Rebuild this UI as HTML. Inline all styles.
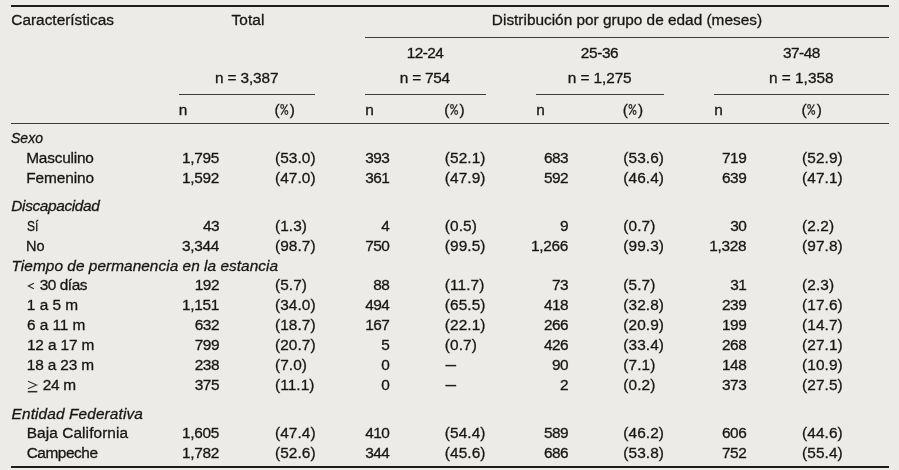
<!DOCTYPE html>
<html><head><meta charset="utf-8"><title>Tabla</title>
<style>
html,body{margin:0;padding:0;}
body{width:899px;height:470px;background:#edebe7;position:relative;overflow:hidden;
font-family:"Liberation Sans",sans-serif;font-size:15.4px;color:#161616;}
.t{position:absolute;white-space:nowrap;line-height:20px;height:20px;-webkit-text-stroke:0.3px #161616;}
.i{font-style:italic;}
.t b{font-weight:normal;display:inline-block;transform:scaleX(.66);transform-origin:0 50%;margin-right:-4.6px;letter-spacing:0;}
.l{position:absolute;}
.g{position:absolute;left:0;top:0;}
.w{position:absolute;left:0;top:0;width:899px;height:470px;will-change:transform;}
</style></head><body>
<div class="l" style="top:5.00px;left:11.30px;width:877.60px;height:2px;background:#1e1e1e"></div>
<div class="l" style="top:36.60px;left:365.00px;width:523.90px;height:1px;background:#3c3c3c"></div>
<div class="l" style="top:93.80px;left:178.70px;width:136.50px;height:1px;background:#3c3c3c"></div>
<div class="l" style="top:93.80px;left:365.00px;width:120.90px;height:1px;background:#3c3c3c"></div>
<div class="l" style="top:93.80px;left:535.80px;width:128.10px;height:1px;background:#3c3c3c"></div>
<div class="l" style="top:93.80px;left:714.10px;width:174.80px;height:1px;background:#3c3c3c"></div>
<div class="l" style="top:122.80px;left:11.30px;width:877.60px;height:1px;background:#3c3c3c"></div>
<div class="l" style="top:466.00px;left:11.30px;width:877.60px;height:2px;background:#1e1e1e"></div>
<svg class="g" width="899" height="470" viewBox="0 0 899 470" fill="none" stroke-linecap="butt" stroke-linejoin="miter">
<polyline points="33.9,283.3 28.4,286 33.9,288.7" stroke="#262626" stroke-width="1.2"/>
<polyline points="28,381.3 36.6,385 28,388.7" stroke="#333" stroke-width="1.1"/>
<line x1="27.8" y1="391.7" x2="37.3" y2="391.7" stroke="#2a2a2a" stroke-width="1.5"/>
<g stroke="#2c2c2c" stroke-width="1.15"><ellipse cx="282.20" cy="106.5" rx="1.45" ry="1.9"/><ellipse cx="286.35" cy="112.5" rx="1.45" ry="1.9"/><line x1="287.40" y1="104.4" x2="281.00" y2="114.9"/><ellipse cx="452.00" cy="106.5" rx="1.45" ry="1.9"/><ellipse cx="456.15" cy="112.5" rx="1.45" ry="1.9"/><line x1="457.20" y1="104.4" x2="450.80" y2="114.9"/><ellipse cx="630.40" cy="106.5" rx="1.45" ry="1.9"/><ellipse cx="634.55" cy="112.5" rx="1.45" ry="1.9"/><line x1="635.60" y1="104.4" x2="629.20" y2="114.9"/><ellipse cx="809.10" cy="106.5" rx="1.45" ry="1.9"/><ellipse cx="813.25" cy="112.5" rx="1.45" ry="1.9"/><line x1="814.30" y1="104.4" x2="807.90" y2="114.9"/><line x1="445.40" y1="365.60" x2="456.20" y2="365.60" stroke="#202020" stroke-width="1.5"/><line x1="445.40" y1="385.60" x2="456.20" y2="385.60" stroke="#202020" stroke-width="1.5"/></g>
</svg>
<div class="w">
<span class="t" style="top:10px;left:11.31px;letter-spacing:0.004px;">Características</span>
<span class="t" style="top:10px;left:48.01px;width:400px;text-align:center;letter-spacing:0.134px;">Total</span>
<span class="t" style="top:10px;left:426.96px;width:400px;text-align:center;letter-spacing:-0.004px;">Distribución por grupo de edad (meses)</span>
<span class="t" style="top:43px;left:225.07px;width:400px;text-align:center;letter-spacing:-0.566px;">12-24</span>
<span class="t" style="top:43px;left:399.57px;width:400px;text-align:center;letter-spacing:-0.388px;">25-36</span>
<span class="t" style="top:43px;left:601.38px;width:400px;text-align:center;letter-spacing:-0.520px;">37-48</span>
<span class="t" style="top:68px;left:46.68px;width:400px;text-align:center;letter-spacing:-0.135px;">n = 3,387</span>
<span class="t" style="top:68px;left:224.83px;width:400px;text-align:center;letter-spacing:-0.258px;">n = 754</span>
<span class="t" style="top:68px;left:399.73px;width:400px;text-align:center;letter-spacing:-0.098px;">n = 1,275</span>
<span class="t" style="top:68px;left:601.27px;width:400px;text-align:center;letter-spacing:0.018px;">n = 1,358</span>
<span class="t" style="top:100px;left:178.74px;">n</span>
<span class="t" style="top:100px;left:274.50px;">(</span>
<span class="t" style="top:100px;left:289.75px;">)</span>
<span class="t" style="top:100px;left:365.20px;">n</span>
<span class="t" style="top:100px;left:444.30px;">(</span>
<span class="t" style="top:100px;left:459.55px;">)</span>
<span class="t" style="top:100px;left:536.16px;">n</span>
<span class="t" style="top:100px;left:622.70px;">(</span>
<span class="t" style="top:100px;left:637.95px;">)</span>
<span class="t" style="top:100px;left:714.15px;">n</span>
<span class="t" style="top:100px;left:801.40px;">(</span>
<span class="t" style="top:100px;left:816.65px;">)</span>
<span class="t i" style="top:128px;left:11.34px;transform:scaleX(0.9105);transform-origin:0 50%;">Sexo</span>
<span class="t" style="top:148px;left:26.18px;letter-spacing:-0.194px;">Masculino</span>
<span class="t" style="top:148px;right:680.00px;letter-spacing:-0.300px;">1,795</span>
<span class="t" style="top:148px;left:275.00px;letter-spacing:0.080px;">(53.0)</span>
<span class="t" style="top:148px;right:509.60px;letter-spacing:-0.500px;">393</span>
<span class="t" style="top:148px;left:444.85px;letter-spacing:0.080px;">(52.1)</span>
<span class="t" style="top:148px;right:330.95px;letter-spacing:-0.500px;">683</span>
<span class="t" style="top:148px;left:623.30px;letter-spacing:0.080px;">(53.6)</span>
<span class="t" style="top:148px;right:152.75px;letter-spacing:-0.500px;">719</span>
<span class="t" style="top:148px;left:802.05px;letter-spacing:0.080px;">(52.9)</span>
<span class="t" style="top:168px;left:26.25px;letter-spacing:-0.105px;">Femenino</span>
<span class="t" style="top:168px;right:680.00px;letter-spacing:-0.300px;">1,592</span>
<span class="t" style="top:168px;left:275.00px;letter-spacing:0.080px;">(47.0)</span>
<span class="t" style="top:168px;right:509.60px;letter-spacing:-0.500px;">361</span>
<span class="t" style="top:168px;left:444.85px;letter-spacing:0.080px;">(47.9)</span>
<span class="t" style="top:168px;right:330.95px;letter-spacing:-0.500px;">592</span>
<span class="t" style="top:168px;left:623.30px;letter-spacing:0.080px;">(46.4)</span>
<span class="t" style="top:168px;right:152.75px;letter-spacing:-0.500px;">639</span>
<span class="t" style="top:168px;left:802.05px;letter-spacing:0.080px;">(47.1)</span>
<span class="t i" style="top:196px;left:11.37px;letter-spacing:-0.358px;">Discapacidad</span>
<span class="t" style="top:216px;left:26.87px;transform:scaleX(0.7801);transform-origin:0 50%;">Sí</span>
<span class="t" style="top:216px;right:680.00px;letter-spacing:-0.500px;">43</span>
<span class="t" style="top:216px;left:275.00px;letter-spacing:0.080px;">(1.3)</span>
<span class="t" style="top:216px;right:509.60px;letter-spacing:-0.500px;">4</span>
<span class="t" style="top:216px;left:444.85px;letter-spacing:0.080px;">(0.5)</span>
<span class="t" style="top:216px;right:330.95px;letter-spacing:-0.500px;">9</span>
<span class="t" style="top:216px;left:623.30px;letter-spacing:0.080px;">(0.7)</span>
<span class="t" style="top:216px;right:152.75px;letter-spacing:-0.500px;">30</span>
<span class="t" style="top:216px;left:802.05px;letter-spacing:0.080px;">(2.2)</span>
<span class="t" style="top:236px;left:26.20px;transform:scaleX(0.9460);transform-origin:0 50%;">No</span>
<span class="t" style="top:236px;right:680.00px;letter-spacing:-0.300px;">3,344</span>
<span class="t" style="top:236px;left:275.00px;letter-spacing:0.080px;">(98.7)</span>
<span class="t" style="top:236px;right:509.60px;letter-spacing:-0.500px;">750</span>
<span class="t" style="top:236px;left:444.85px;letter-spacing:0.080px;">(99.5)</span>
<span class="t" style="top:236px;right:330.95px;letter-spacing:-0.300px;">1,266</span>
<span class="t" style="top:236px;left:623.30px;letter-spacing:0.080px;">(99.3)</span>
<span class="t" style="top:236px;right:152.75px;letter-spacing:-0.300px;">1,328</span>
<span class="t" style="top:236px;left:802.05px;letter-spacing:0.080px;">(97.8)</span>
<span class="t i" style="top:256px;left:11.55px;letter-spacing:0.041px;">Tiempo de permanencia en la estancia</span>
<span class="t" style="top:275px;left:39.64px;letter-spacing:-0.429px;">30 días</span>
<span class="t" style="top:275px;right:680.00px;letter-spacing:-0.500px;">192</span>
<span class="t" style="top:275px;left:275.00px;letter-spacing:0.080px;">(5.7)</span>
<span class="t" style="top:275px;right:509.60px;letter-spacing:-0.500px;">88</span>
<span class="t" style="top:275px;left:444.85px;letter-spacing:0.080px;">(11.7)</span>
<span class="t" style="top:275px;right:330.95px;letter-spacing:-0.500px;">73</span>
<span class="t" style="top:275px;left:623.30px;letter-spacing:0.080px;">(5.7)</span>
<span class="t" style="top:275px;right:152.75px;letter-spacing:-0.500px;">31</span>
<span class="t" style="top:275px;left:802.05px;letter-spacing:0.080px;">(2.3)</span>
<span class="t" style="top:295px;left:26.87px;letter-spacing:-0.008px;">1 a 5 m</span>
<span class="t" style="top:295px;right:680.00px;letter-spacing:-0.300px;">1,151</span>
<span class="t" style="top:295px;left:275.00px;letter-spacing:0.080px;">(34.0)</span>
<span class="t" style="top:295px;right:509.60px;letter-spacing:-0.500px;">494</span>
<span class="t" style="top:295px;left:444.85px;letter-spacing:0.080px;">(65.5)</span>
<span class="t" style="top:295px;right:330.95px;letter-spacing:-0.500px;">418</span>
<span class="t" style="top:295px;left:623.30px;letter-spacing:0.080px;">(32.8)</span>
<span class="t" style="top:295px;right:152.75px;letter-spacing:-0.500px;">239</span>
<span class="t" style="top:295px;left:802.05px;letter-spacing:0.080px;">(17.6)</span>
<span class="t" style="top:315px;left:26.90px;letter-spacing:-0.045px;">6 a 11 m</span>
<span class="t" style="top:315px;right:680.00px;letter-spacing:-0.500px;">632</span>
<span class="t" style="top:315px;left:275.00px;letter-spacing:0.080px;">(18.7)</span>
<span class="t" style="top:315px;right:509.60px;letter-spacing:-0.500px;">167</span>
<span class="t" style="top:315px;left:444.85px;letter-spacing:0.080px;">(22.1)</span>
<span class="t" style="top:315px;right:330.95px;letter-spacing:-0.500px;">266</span>
<span class="t" style="top:315px;left:623.30px;letter-spacing:0.080px;">(20.9)</span>
<span class="t" style="top:315px;right:152.75px;letter-spacing:-0.500px;">199</span>
<span class="t" style="top:315px;left:802.05px;letter-spacing:0.080px;">(14.7)</span>
<span class="t" style="top:335px;left:26.91px;letter-spacing:-0.124px;">12 a 17 m</span>
<span class="t" style="top:335px;right:680.00px;letter-spacing:-0.500px;">799</span>
<span class="t" style="top:335px;left:275.00px;letter-spacing:0.080px;">(20.7)</span>
<span class="t" style="top:335px;right:509.60px;letter-spacing:-0.500px;">5</span>
<span class="t" style="top:335px;left:444.85px;letter-spacing:0.080px;">(0.7)</span>
<span class="t" style="top:335px;right:330.95px;letter-spacing:-0.500px;">426</span>
<span class="t" style="top:335px;left:623.30px;letter-spacing:0.080px;">(33.4)</span>
<span class="t" style="top:335px;right:152.75px;letter-spacing:-0.500px;">268</span>
<span class="t" style="top:335px;left:802.05px;letter-spacing:0.080px;">(27.1)</span>
<span class="t" style="top:355px;left:26.77px;letter-spacing:-0.144px;">18 a 23 m</span>
<span class="t" style="top:355px;right:680.00px;letter-spacing:-0.500px;">238</span>
<span class="t" style="top:355px;left:275.00px;letter-spacing:0.080px;">(7.0)</span>
<span class="t" style="top:355px;right:509.60px;letter-spacing:-0.500px;">0</span>
<span class="t" style="top:355px;right:330.95px;letter-spacing:-0.500px;">90</span>
<span class="t" style="top:355px;left:623.30px;letter-spacing:0.080px;">(7.1)</span>
<span class="t" style="top:355px;right:152.75px;letter-spacing:-0.500px;">148</span>
<span class="t" style="top:355px;left:802.05px;letter-spacing:0.080px;">(10.9)</span>
<span class="t" style="top:375px;left:42.65px;letter-spacing:-0.264px;">24 m</span>
<span class="t" style="top:375px;right:680.00px;letter-spacing:-0.500px;">375</span>
<span class="t" style="top:375px;left:275.00px;letter-spacing:0.080px;">(11.1)</span>
<span class="t" style="top:375px;right:509.60px;letter-spacing:-0.500px;">0</span>
<span class="t" style="top:375px;right:330.95px;letter-spacing:-0.500px;">2</span>
<span class="t" style="top:375px;left:623.30px;letter-spacing:0.080px;">(0.2)</span>
<span class="t" style="top:375px;right:152.75px;letter-spacing:-0.500px;">373</span>
<span class="t" style="top:375px;left:802.05px;letter-spacing:0.080px;">(27.5)</span>
<span class="t i" style="top:404px;left:11.57px;letter-spacing:0.122px;">Entidad Federativa</span>
<span class="t" style="top:423px;left:26.72px;letter-spacing:0.091px;">Baja California</span>
<span class="t" style="top:423px;right:680.00px;letter-spacing:-0.300px;">1,605</span>
<span class="t" style="top:423px;left:275.00px;letter-spacing:0.080px;">(47.4)</span>
<span class="t" style="top:423px;right:509.60px;letter-spacing:-0.500px;">410</span>
<span class="t" style="top:423px;left:444.85px;letter-spacing:0.080px;">(54.4)</span>
<span class="t" style="top:423px;right:330.95px;letter-spacing:-0.500px;">589</span>
<span class="t" style="top:423px;left:623.30px;letter-spacing:0.080px;">(46.2)</span>
<span class="t" style="top:423px;right:152.75px;letter-spacing:-0.500px;">606</span>
<span class="t" style="top:423px;left:802.05px;letter-spacing:0.080px;">(44.6)</span>
<span class="t" style="top:443px;left:26.64px;letter-spacing:-0.435px;">Campeche</span>
<span class="t" style="top:443px;right:680.00px;letter-spacing:-0.300px;">1,782</span>
<span class="t" style="top:443px;left:275.00px;letter-spacing:0.080px;">(52.6)</span>
<span class="t" style="top:443px;right:509.60px;letter-spacing:-0.500px;">344</span>
<span class="t" style="top:443px;left:444.85px;letter-spacing:0.080px;">(45.6)</span>
<span class="t" style="top:443px;right:330.95px;letter-spacing:-0.500px;">686</span>
<span class="t" style="top:443px;left:623.30px;letter-spacing:0.080px;">(53.8)</span>
<span class="t" style="top:443px;right:152.75px;letter-spacing:-0.500px;">752</span>
<span class="t" style="top:443px;left:802.05px;letter-spacing:0.080px;">(55.4)</span>
</div>
</body></html>
